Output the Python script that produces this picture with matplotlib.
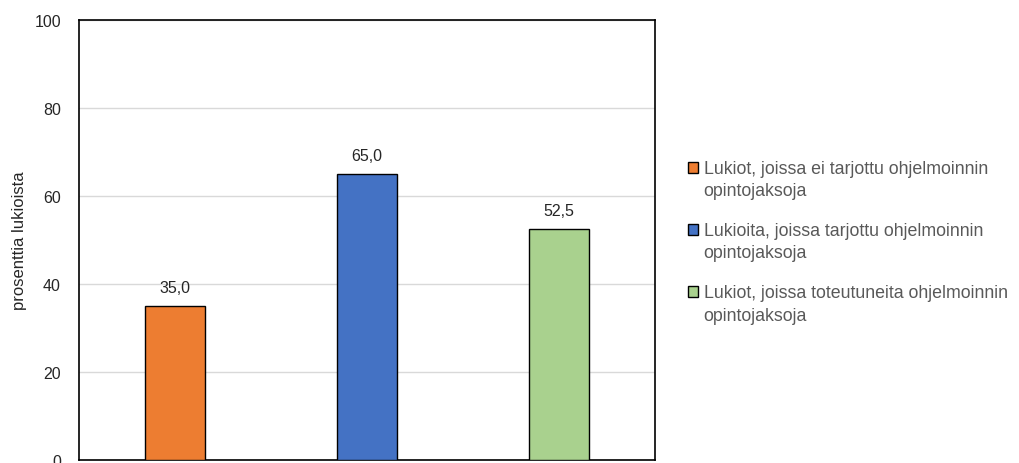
import matplotlib.pyplot as plt
from matplotlib.patches import Patch, Rectangle
from matplotlib.legend_handler import HandlerPatch

plt.rcParams['font.family'] = ['Liberation Sans', 'DejaVu Sans']

# Data
categories = [
    "Lukiot, joissa ei tarjottu ohjelmoinnin\nopintojaksoja",
    "Lukioita, joissa tarjottu ohjelmoinnin\nopintojaksoja",
    "Lukiot, joissa toteutuneita ohjelmoinnin\nopintojaksoja",
]
values = [35.0, 65.0, 52.5]
colors = ["#ed7d31", "#4472c4", "#a9d18e"]
yticks = [0, 20, 40, 60, 80, 100]

fig = plt.figure(figsize=(10.19, 4.64), dpi=100)
ax = fig.add_axes([0.0775, 0.007, 0.5655, 0.948])

xs = range(len(values))
ax.bar(xs, values, width=0.31, color=colors, edgecolor="black", linewidth=1.0, zorder=3)

for x, v in zip(xs, values):
    ax.text(x, v + 2.5, f"{v:.1f}".replace(".", ","), ha="center", va="bottom",
            fontsize=11.5, color="#262626")

ax.set_xlim(-0.5, 2.5)
ax.set_ylim(0, 100)
ax.set_yticks(yticks)
ax.set_yticklabels([str(t) for t in yticks], fontsize=11.5, color="#262626")
ax.set_xticks([])
ax.tick_params(axis="y", length=0, pad=13)
ax.yaxis.grid(True, color="#d9d9d9", linewidth=1.0, zorder=0)
ax.set_axisbelow(True)
for s in ax.spines.values():
    s.set_color("black")
    s.set_linewidth(1.2)

ax.set_ylabel("prosenttia lukioista", fontsize=12, color="#262626")
ax.yaxis.set_label_coords(-0.09, 0.5)


# legend square sits beside the first line of a wrapped label
def top_patch(legend, orig_handle, xdescent, ydescent, width, height, fontsize):
    return Rectangle((-xdescent, -ydescent + 0.7 * fontsize), width, height)


handles = [Patch(facecolor=c, edgecolor="black", linewidth=1.0) for c in colors]
leg = fig.legend(handles, categories, loc="upper left", bbox_to_anchor=(0.659, 0.688),
                 frameon=False, fontsize=12.8, labelcolor="#595959",
                 handlelength=0.6, handleheight=0.6, handletextpad=0.3,
                 labelspacing=1.3,
                 handler_map={Patch: HandlerPatch(patch_func=top_patch)})
for t in leg.get_texts():
    t.set_linespacing(1.4)

fig.savefig("out.png", dpi=100)
